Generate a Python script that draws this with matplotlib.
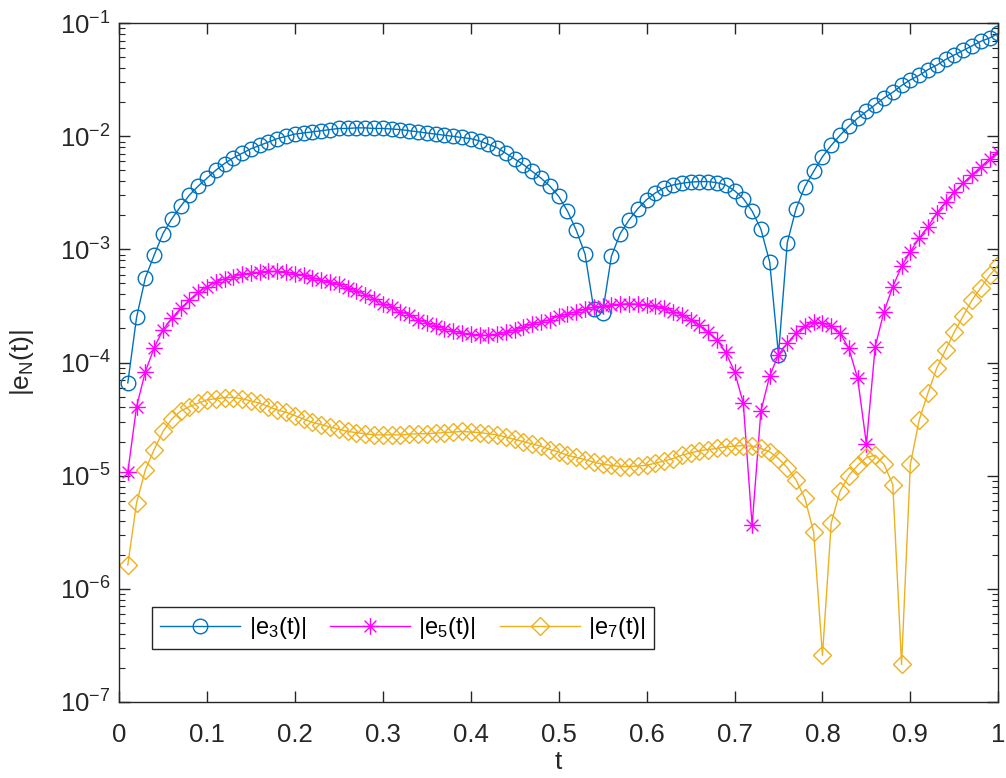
import numpy as np
import matplotlib
matplotlib.use("Agg")
import matplotlib.pyplot as plt
from matplotlib.path import Path
from matplotlib.ticker import LogFormatterMathtext, NullFormatter, FixedLocator, FixedFormatter

# sample times (marker positions)
t = np.linspace(0.01, 1.0, 100)

# log10 of |e_N(t)|, t = 0.01 ... 1.00
e3_log10 = [
    -4.18, -3.60, -3.25, -3.05, -2.86, -2.73, -2.62, -2.52, -2.44, -2.37,
    -2.30, -2.24, -2.19, -2.15, -2.11, -2.08, -2.05, -2.02, -2.00, -1.98,
    -1.97, -1.96, -1.95, -1.94, -1.93, -1.93, -1.925, -1.925, -1.93, -1.93,
    -1.935, -1.94, -1.95, -1.96, -1.97, -1.98, -1.99, -2.00, -2.01, -2.02,
    -2.04, -2.07, -2.10, -2.15, -2.20, -2.25, -2.31, -2.37, -2.44, -2.53,
    -2.66, -2.83, -3.04, -3.53, -3.56, -3.06, -2.86, -2.74, -2.64, -2.56,
    -2.50, -2.455, -2.43, -2.415, -2.405, -2.40, -2.40, -2.41, -2.43, -2.48,
    -2.55, -2.66, -2.82, -3.11, -3.93, -2.94, -2.64, -2.445, -2.31, -2.18,
    -2.08, -1.99, -1.91, -1.84, -1.78, -1.72, -1.66, -1.61, -1.55, -1.50,
    -1.46, -1.41, -1.37, -1.32, -1.28, -1.24, -1.20, -1.16, -1.13, -1.09,
]
e5_log10 = [
    -4.97, -4.39, -4.08, -3.87, -3.71, -3.61, -3.52, -3.45, -3.38, -3.33,
    -3.29, -3.26, -3.24, -3.22, -3.21, -3.20, -3.195, -3.195, -3.20, -3.215,
    -3.23, -3.25, -3.27, -3.29, -3.31, -3.34, -3.37, -3.40, -3.44, -3.48,
    -3.51, -3.55, -3.58, -3.62, -3.65, -3.68, -3.70, -3.72, -3.74, -3.75,
    -3.76, -3.76, -3.75, -3.73, -3.71, -3.69, -3.66, -3.64, -3.62, -3.59,
    -3.57, -3.55, -3.53, -3.51, -3.50, -3.49, -3.485, -3.48, -3.485, -3.49,
    -3.50, -3.52, -3.55, -3.58, -3.62, -3.67, -3.73, -3.80, -3.91, -4.08,
    -4.36, -5.44, -4.43, -4.12, -3.93, -3.83, -3.74, -3.68, -3.645, -3.65,
    -3.68, -3.74, -3.875, -4.14, -4.72, -3.86, -3.55, -3.33, -3.15, -3.02,
    -2.90, -2.80, -2.68, -2.58, -2.49, -2.415, -2.34, -2.27, -2.20, -2.135,
]
e7_log10 = [
    -5.79, -5.24, -4.95, -4.77, -4.61, -4.50, -4.43, -4.39, -4.36, -4.33,
    -4.32, -4.31, -4.31, -4.32, -4.34, -4.36, -4.39, -4.42, -4.44, -4.47,
    -4.50, -4.53, -4.55, -4.57, -4.59, -4.61, -4.62, -4.63, -4.64, -4.64,
    -4.64, -4.64, -4.635, -4.63, -4.63, -4.625, -4.62, -4.615, -4.61, -4.615,
    -4.62, -4.63, -4.64, -4.66, -4.68, -4.70, -4.72, -4.74, -4.77, -4.79,
    -4.82, -4.84, -4.86, -4.88, -4.90, -4.91, -4.92, -4.92, -4.915, -4.91,
    -4.89, -4.87, -4.85, -4.82, -4.80, -4.78, -4.77, -4.76, -4.745, -4.74,
    -4.735, -4.74, -4.76, -4.79, -4.85, -4.93, -5.04, -5.20, -5.50, -6.59,
    -5.42, -5.14, -5.00, -4.91, -4.84, -4.82, -4.90, -5.08, -6.67, -4.90,
    -4.51, -4.27, -4.05, -3.89, -3.73, -3.59, -3.45, -3.34, -3.23, -3.14,
]

labels = [r"|e$_3$(t)|", r"|e$_5$(t)|", r"|e$_7$(t)|"]
x_ticks = [0, 0.1, 0.2, 0.3, 0.4, 0.5, 0.6, 0.7, 0.8, 0.9, 1.0]
x_tick_labels = ["0", "0.1", "0.2", "0.3", "0.4", "0.5", "0.6", "0.7", "0.8", "0.9", "1"]
y_ticks = [1e-7, 1e-6, 1e-5, 1e-4, 1e-3, 1e-2, 1e-1]

e3 = np.power(10.0, e3_log10)
e5 = np.power(10.0, e5_log10)
e7 = np.power(10.0, e7_log10)

plt.rcParams['font.family'] = ['Liberation Sans', 'DejaVu Sans']
plt.rcParams['mathtext.fontset'] = 'custom'
plt.rcParams['mathtext.rm'] = 'Liberation Sans'
plt.rcParams['mathtext.it'] = 'Liberation Sans'
plt.rcParams['mathtext.default'] = 'regular'

# MATLAB style asterisk marker (+ and x combined)
s = 0.7071
star = Path([(-1, 0), (1, 0), (0, -1), (0, 1), (-s, -s), (s, s), (-s, s), (s, -s)],
            [Path.MOVETO, Path.LINETO] * 4)

fig = plt.figure(figsize=(10.06, 7.78), dpi=100)
ax = fig.add_axes([119 / 1006, 1 - 701.7 / 778, (998.3 - 119) / 1006, (701.7 - 23.3) / 778])

c3 = '#0072BD'
c5 = '#FF00FF'
c7 = '#EDB120'

ax.plot(t, e3, '-', color=c3, lw=1.0, marker='o', ms=10.5, mfc='none', mec=c3, mew=1.0, label=labels[0])
ax.plot(t, e5, '-', color=c5, lw=1.0, marker=star, ms=12, mfc='none', mec=c5, mew=1.0, label=labels[1])
ax.plot(t, e7, '-', color=c7, lw=1.0, marker='D', ms=8.8, mfc='none', mec=c7, mew=1.0, label=labels[2])

ax.set_yscale('log')
ax.set_xlim(0, 1)
ax.set_ylim(1e-7, 1e-1)
ax.xaxis.set_major_locator(FixedLocator(x_ticks))
ax.xaxis.set_major_formatter(FixedFormatter(x_tick_labels))
ax.yaxis.set_major_locator(FixedLocator(y_ticks))
ax.yaxis.set_major_formatter(LogFormatterMathtext())
minor_y = [m * d for d in y_ticks[:-1] for m in range(2, 10)]
ax.yaxis.set_minor_locator(FixedLocator(minor_y))
ax.yaxis.set_minor_formatter(NullFormatter())

tc = '#262626'
ax.tick_params(axis='both', which='both', direction='in', top=True, right=True, colors=tc,
               labelcolor=tc, labelsize=18.5)
ax.tick_params(axis='both', which='major', length=8, width=1.0)
ax.tick_params(axis='y', which='minor', length=4, width=0.8)
ax.tick_params(axis='x', which='major', pad=15)
ax.tick_params(axis='y', which='major', pad=6)
for sp in ax.spines.values():
    sp.set_color(tc)
    sp.set_linewidth(1.0)

ax.set_xlabel('t', fontsize=19, color=tc)
ax.xaxis.set_label_coords(0.5, -0.071)
ax.set_ylabel(r'|e$_N$(t)|', fontsize=19, color=tc)
ax.yaxis.set_label_coords(-0.094, 0.5)

leg = ax.legend(loc='lower left', bbox_to_anchor=(0.0372, 0.0772), borderaxespad=0,
                ncol=3, fontsize=17, handlelength=3.4, handletextpad=0.35,
                columnspacing=1.0, borderpad=0.35, fancybox=False, framealpha=1,
                edgecolor=tc)
leg.get_frame().set_linewidth(1.0)

fig.savefig('out.png', dpi=100)
